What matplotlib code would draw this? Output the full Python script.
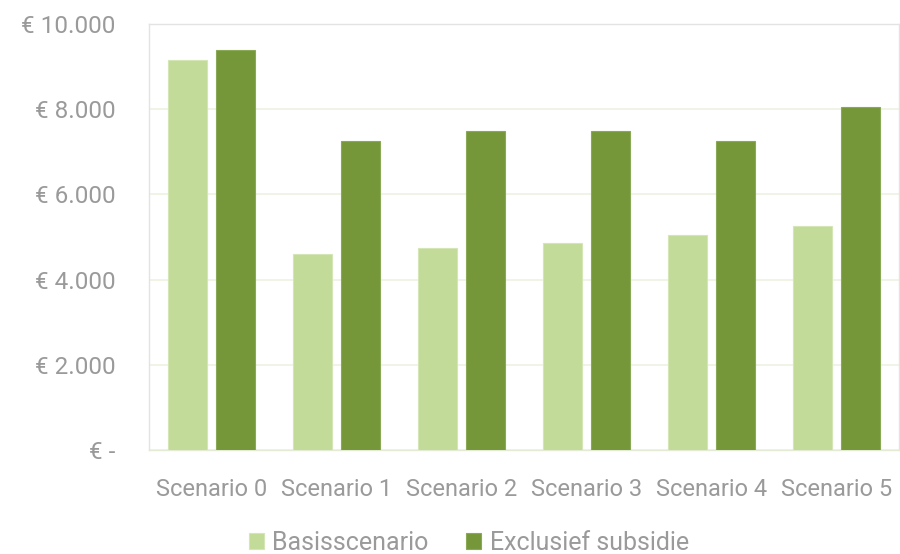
import matplotlib
matplotlib.use("Agg")
import matplotlib.pyplot as plt
import numpy as np

categories = ["Scenario 0", "Scenario 1", "Scenario 2", "Scenario 3", "Scenario 4", "Scenario 5"]
basis = [9150, 4600, 4750, 4850, 5050, 5250]
exclusief = [9400, 7250, 7500, 7500, 7250, 8050]
series_names = ["Basisscenario", "Exclusief subsidie"]
yticks = [0, 2000, 4000, 6000, 8000, 10000]
ytick_labels = ["€ -", "€ 2.000", "€ 4.000", "€ 6.000", "€ 8.000", "€ 10.000"]

plt.rcParams['font.family'] = ['Roboto', 'DejaVu Sans']
text_color = "#9a9a9a"
light = "#C3DB98"
dark = "#76963A"

fig = plt.figure(figsize=(9, 5.54), dpi=100)
ax = fig.add_axes([149/900, 1-450/554, 750/900, 426/554])

x = np.arange(len(categories))
w = 0.31
off = 0.19
ax.bar(x - off, basis, w, color=light, edgecolor="#d4e6b5", linewidth=0.8, label=series_names[0], zorder=3)
ax.bar(x + off, exclusief, w, color=dark, edgecolor="#8aa957", linewidth=0.8, label=series_names[1], zorder=3)

ax.set_xlim(-0.5, len(categories) - 0.5)
ax.set_ylim(0, 10000)
ax.set_yticks(yticks)
ax.set_yticklabels(ytick_labels)
ax.set_xticks(x)
ax.set_xticklabels(categories)
ax.grid(axis='y', color="#EDF2E3", linewidth=1.2, zorder=0)
ax.tick_params(axis='y', length=0, pad=24, labelsize=17.5, labelcolor=text_color)
ax.tick_params(axis='x', length=0, pad=20, labelsize=17, labelcolor=text_color)
for s in ax.spines.values():
    s.set_color("#E3E3E3")
    s.set_linewidth(1.0)
ax.spines['bottom'].set_color("#E3EBD5")

leg = fig.legend(loc='center', bbox_to_anchor=(469/900, 1-543/554), ncol=2, frameon=False,
                 fontsize=18, handlelength=0.6, handleheight=0.6, columnspacing=1.5,
                 handletextpad=0.35, borderpad=0)
for t in leg.get_texts():
    t.set_color(text_color)

fig.savefig("out.png", dpi=100)
